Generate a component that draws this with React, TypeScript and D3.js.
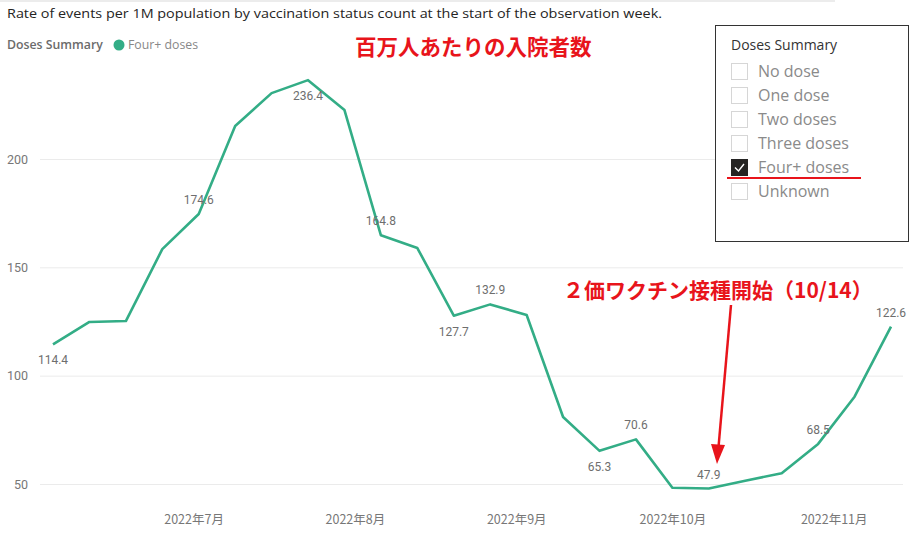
import { useEffect, useMemo, useRef } from 'react';
import * as d3 from 'd3';

// Weekly hospitalisation rate, Four+ doses (per 1M)
const WEEKS = [
  '2022-06-04', '2022-06-11', '2022-06-18', '2022-06-25',
  '2022-07-02', '2022-07-09', '2022-07-16', '2022-07-23', '2022-07-30',
  '2022-08-06', '2022-08-13', '2022-08-20', '2022-08-27',
  '2022-09-03', '2022-09-10', '2022-09-17', '2022-09-24',
  '2022-10-01', '2022-10-08', '2022-10-15', '2022-10-22', '2022-10-29',
  '2022-11-05', '2022-11-12',
];
const RATES = [
  114.4, 124.8, 125.2, 158.4,
  174.6, 215.2, 230.4, 236.4, 222.6,
  164.8, 158.9, 127.7, 132.9,
  128.0, 80.9, 65.3, 70.6,
  48.3, 47.9, 51.5, 55.0, 68.5,
  90.3, 122.6,
];
// which points carry a data label, and on which side
const LABELLED: Record<number, 'above' | 'below'> = {
  0: 'below', 4: 'above', 7: 'below', 9: 'above', 11: 'below', 12: 'above',
  15: 'below', 16: 'above', 18: 'above', 21: 'above', 23: 'above',
};
const Y_TICKS = [50, 100, 150, 200];
const SLICER_ITEMS = ['No dose', 'One dose', 'Two doses', 'Three doses', 'Four+ doses', 'Unknown'];
const CHECKED = 'Four+ doses';

const W = 924;
const H = 542;
const LINE_COLOR = '#33ad86';
const RED = '#e8141b';
const GREY = '#777';
const parse = d3.timeParse('%Y-%m-%d');

export default function App() {
  const yAxisRef = useRef<SVGGElement>(null);
  const xAxisRef = useRef<SVGGElement>(null);

  const dates = useMemo(() => WEEKS.map((d) => parse(d) as Date), []);
  const x = useMemo(
    () => d3.scaleTime().domain([dates[0], dates[dates.length - 1]]).range([53, 891]),
    [dates],
  );
  const y = useMemo(() => d3.scaleLinear().domain([50, 200]).range([484, 159]), []);

  const line = d3
    .line<number>()
    .x((_, i) => x(dates[i]))
    .y((v) => y(v));

  useEffect(() => {
    if (yAxisRef.current) {
      d3.select(yAxisRef.current)
        .call(d3.axisLeft(y).tickValues(Y_TICKS).tickSize(-(903 - 40)).tickPadding(12).tickFormat((d) => String(d)))
        .call((g) => {
          g.select('.domain').remove();
          g.selectAll('line').attr('stroke', '#ebebeb').attr('stroke-width', 1);
          g.selectAll('text').attr('fill', GREY).attr('font-size', 12.5).attr('font-family', 'Roboto, sans-serif');
        });
    }
    if (xAxisRef.current) {
      const ticks = d3.timeMonth.range(new Date(2022, 6, 1), new Date(2022, 11, 1));
      d3.select(xAxisRef.current)
        .call(
          d3.axisBottom(x)
            .tickValues(ticks)
            .tickSize(0)
            .tickPadding(0)
            .tickFormat((d) => `${(d as Date).getFullYear()}年${(d as Date).getMonth() + 1}月`),
        )
        .call((g) => {
          g.select('.domain').remove();
          g.selectAll('text')
            .attr('fill', GREY)
            .attr('font-size', 12.5)
            .attr('dy', 0)
            .attr('font-family', "'Noto Sans CJK JP', 'Noto Sans', sans-serif");
        });
    }
  }, [x, y]);

  return (
    <div style={{ position: 'absolute', left: 0, top: 0 }}>
      <svg width={W} height={H} style={{ display: 'block', background: '#fff' }}>
        {/* top border */}
        <line x1={0} x2={835} y1={1} y2={1} stroke="#ececec" strokeWidth={2} />

        {/* title */}
        <text x={7} y={18} fontFamily="'Open Sans', sans-serif" fontSize={13.5} fill="#252423" textLength={655} lengthAdjust="spacingAndGlyphs">
          Rate of events per 1M population by vaccination status count at the start of the observation week.
        </text>

        {/* legend */}
        <text x={7} y={49} fontFamily="'Open Sans', sans-serif" fontSize={12.3} fontWeight={600} fill="#6b6b6b">
          Doses Summary
        </text>
        <circle cx={119} cy={45} r={5.5} fill={LINE_COLOR} />
        <text x={128} y={49} fontFamily="'Open Sans', sans-serif" fontSize={12.3} fill="#888">
          Four+ doses
        </text>

        {/* axes + grid */}
        <g ref={yAxisRef} transform="translate(40,0)" />
        <g ref={xAxisRef} transform="translate(0,524)" />

        {/* series */}
        <path d={line(RATES) ?? ''} fill="none" stroke={LINE_COLOR} strokeWidth={2.6} strokeLinejoin="round" />

        {/* data labels */}
        {RATES.map((v, i) => {
          const side = LABELLED[i];
          if (!side) return null;
          return (
            <text
              key={i}
              x={x(dates[i])}
              y={y(v) + (side === 'above' ? -10 : 20)}
              textAnchor="middle"
              fontFamily="Roboto, sans-serif"
              fontSize={12}
              fill="#6e6e6e"
            >
              {v.toFixed(1)}
            </text>
          );
        })}

        {/* annotations */}
        <text x={355} y={55} fontFamily="'Noto Sans CJK JP', sans-serif" fontWeight={700} fontSize={21.5} fill={RED}>
          百万人あたりの入院者数
        </text>
        <text x={563} y={298} fontFamily="'Noto Sans CJK JP', sans-serif" fontWeight={700} fontSize={21} fill={RED}>
          ２価ワクチン接種開始（10/14）
        </text>
        <line x1={731} y1={305} x2={718.5} y2={447} stroke={RED} strokeWidth={2.5} />
        <polygon points="711,444 725,445 717,464" fill={RED} />

        {/* slicer */}
        <rect x={715.5} y={25.5} width={193} height={216} fill="#fff" stroke="#333" strokeWidth={1} />
        <text x={731} y={50} fontFamily="'Open Sans', sans-serif" fontSize={14} fill="#333">
          Doses Summary
        </text>
        {SLICER_ITEMS.map((item, i) => {
          const cy = 71 + i * 24;
          const on = item === CHECKED;
          return (
            <g key={item}>
              <rect x={731.5} y={cy - 7.5} width={16} height={16} fill={on ? '#252423' : '#fff'} stroke={on ? '#252423' : '#d6d6d6'} />
              {on && <path d={`M735 ${cy + 0.5} l3.5 3.5 l5.5 -7`} fill="none" stroke="#fff" strokeWidth={1.4} />}
              <text x={758} y={cy + 6} fontFamily="'Open Sans', sans-serif" fontSize={16} fill="#8a8a8a">
                {item}
              </text>
            </g>
          );
        })}
        <line x1={727} x2={861} y1={178} y2={178} stroke={RED} strokeWidth={2.2} />
      </svg>
    </div>
  );
}
